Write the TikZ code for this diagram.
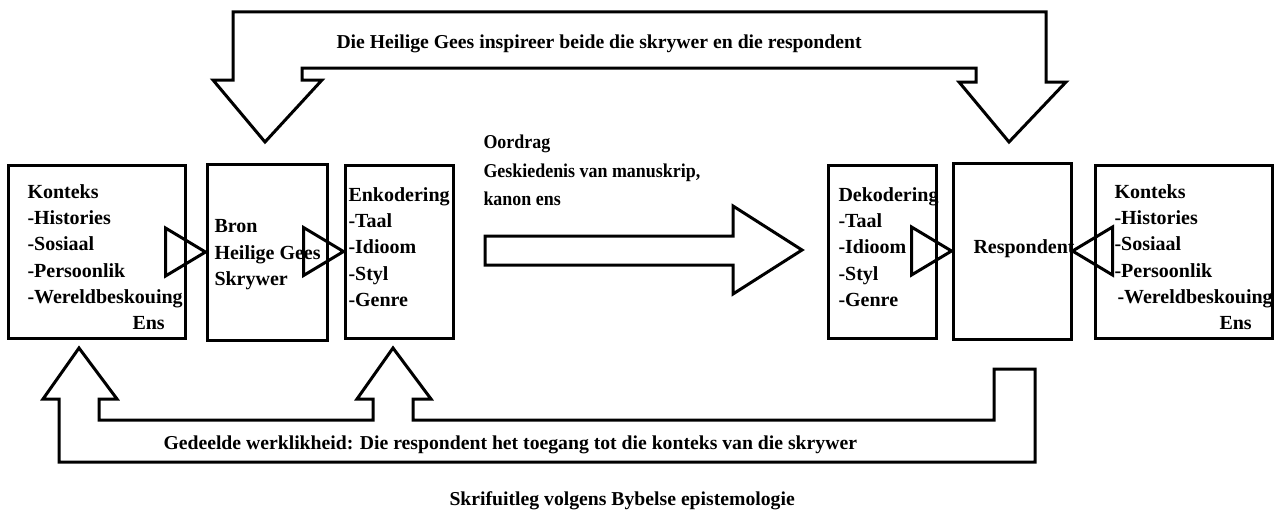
\documentclass[tikz,border=0pt]{standalone}
\usepackage{fontspec}
\setmainfont{Liberation Serif}
\newfontfamily\oordragfont{Liberation Serif}[FakeStretch=0.915]
\begin{document}
\begin{tikzpicture}[x=1pt,y=1pt,line width=3pt,line join=miter,
		blok/.style={draw,rectangle,inner sep=0pt},
		teks/.style={inner sep=0pt,align=left,font=\bfseries\fontsize{20}{26.3}\selectfont},
		reel/.style={inner sep=0pt,anchor=base west,font=\bfseries\fontsize{19.7}{24}\selectfont}]
		\useasboundingbox (0,0) rectangle (1276,-511);
		\node[blok,minimum width=177,minimum height=173] (konteksL) at (96.5,-251.5) {};
		\node[blok,minimum width=120,minimum height=176] (bron) at (267,-252) {};
		\node[blok,minimum width=108,minimum height=173] (enkodering) at (399,-251.5) {};
		\node[blok,minimum width=108,minimum height=173] (dekodering) at (882,-251.5) {};
		\node[blok,minimum width=118,minimum height=176] (respondent) at (1012,-251) {};
		\node[blok,minimum width=177,minimum height=173] (konteksR) at (1183.5,-251.5) {};
		\node[teks,anchor=north west] (konteksLtxt) at (26,-183) {Konteks\\-Histories\\-Sosiaal\\-Persoonlik\\-Wereldbeskouing\\\hspace*{105pt}Ens};
		\node[teks,anchor=north west] (brontxt) at (213,-218.3) {Bron\\Heilige Gees\\Skrywer};
		\node[teks,anchor=north west] (enkoderingtxt) at (347,-186) {Enkodering\\-Taal\\-Idioom\\-Styl\\-Genre};
		\node[teks,anchor=north west] (dekoderingtxt) at (837,-186) {Dekodering\\-Taal\\-Idioom\\-Styl\\-Genre};
		\node[teks,anchor=base west] (respondenttxt) at (972,-253.7) {Respondent};
		\node[teks,anchor=north west] (konteksRtxt) at (1113,-183) {Konteks\\-Histories\\-Sosiaal\\-Persoonlik\\\hspace*{3pt}-Wereldbeskouing\\\hspace*{105pt}Ens};
		\draw (bron.west) -- +(-40,24) -- +(-40,-24) -- cycle;
		\draw (enkodering.west) -- +(-40,24) -- +(-40,-24) -- cycle;
		\draw (respondent.west) -- +(-40,24) -- +(-40,-24) -- cycle;
		\draw (respondent.east) -- +(40,24) -- +(40,-24) -- cycle;
		\draw (485,-236) -- (733,-236) -- (733,-206) -- (802,-250) -- (733,-294) -- (733,-265) -- (485,-265) -- cycle;
		\node[teks,anchor=north west,font=\oordragfont\bfseries\fontsize{19.6}{28.5}\selectfont] (oordrag) at (482,-133.4) {Oordrag\\Geskiedenis van manuskrip,\\kanon ens};
		\draw (976,-68) -- (302,-68) -- (302,-80) -- (322,-80) -- (265,-142) -- (213,-80) -- (233,-80) -- (233,-12) -- (1046,-12) -- (1046,-82) -- (1066,-82) -- (1009,-142) -- (959,-82) -- (976,-82) -- cycle;
		\node[reel] (inspireer) at (335,-48.6) {Die Heilige Gees inspireer beide die skrywer en die respondent};
		\draw (59,-462) -- (59,-399) -- (43,-399) -- (79,-348) -- (117,-399) -- (99,-399) -- (99,-420) -- (373,-420) -- (373,-399) -- (357,-399) -- (393,-348) -- (431,-399) -- (413,-399) -- (413,-420) -- (994,-420) -- (994,-369) -- (1035,-369) -- (1035,-462) -- cycle;
		\node[reel] (gedeelde) at (162,-449.6) {Gedeelde werklikheid: Die respondent het toegang tot die konteks van die skrywer};
		\node[reel] (opskrif) at (448,-505.5) {Skrifuitleg volgens Bybelse epistemologie};
	\end{tikzpicture}
\end{document}
